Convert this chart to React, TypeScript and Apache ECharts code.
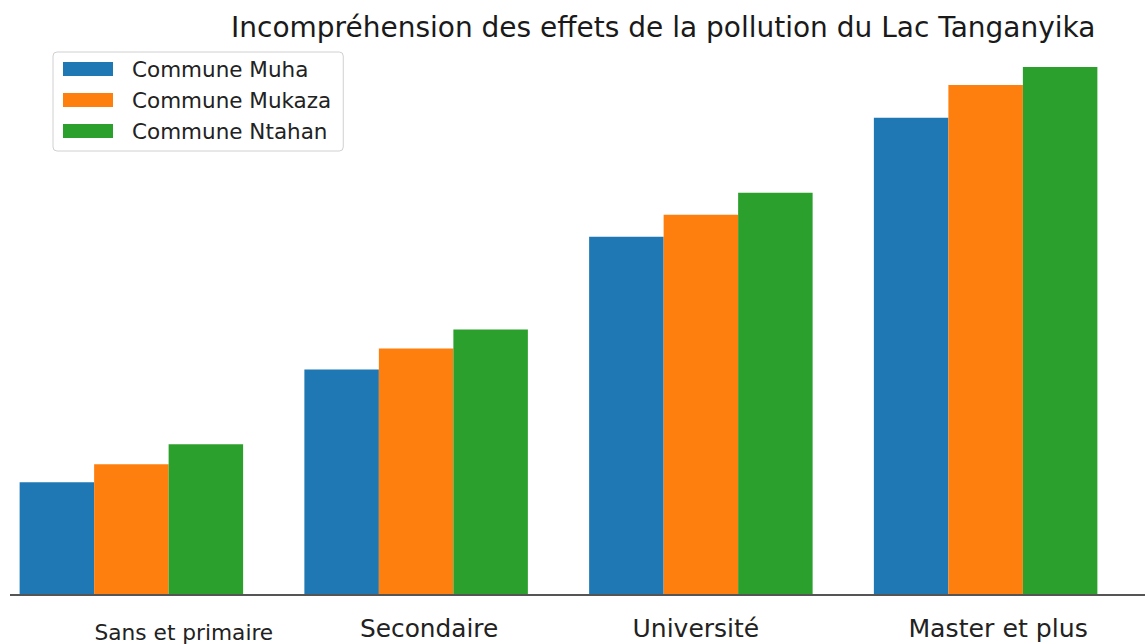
import React, { useEffect, useRef } from "react";
import * as echarts from "echarts";

const categories = ["Sans et primaire", "Secondaire", "Université", "Master et plus"];
const seriesNames = ["Commune Muha", "Commune Mukaza", "Commune Ntahan"];
const muha = [11.2, 22.5, 35.8, 47.7];
const mukaza = [13.0, 24.6, 38.0, 51.0];
const ntahan = [15.0, 26.5, 40.2, 52.8];
const titleText = "Incompréhension des effets de la pollution du Lac Tanganyika";

const colors = ["#1f77b4", "#ff7f0e", "#2ca02c"];
const FONT = "DejaVu Sans";

export default function App() {
  const ref = useRef<HTMLDivElement>(null);
  useEffect(() => {
    document.body.style.margin = "0";
    if (!ref.current) return;
    const chart = echarts.init(ref.current, undefined, { renderer: "svg" });
    const labelKeys = ["a", "b", "c", "d"];
    chart.setOption({
      animation: false,
      backgroundColor: "#ffffff",
      title: {
        text: titleText,
        left: 226,
        top: 8,
        textStyle: { fontFamily: FONT, fontSize: 28, fontWeight: "normal", color: "#1a1a1a" },
      },
      legend: {
        orient: "vertical",
        left: 53,
        top: 52,
        icon: "rect",
        itemWidth: 50,
        itemHeight: 14,
        itemGap: 9,
        padding: [6, 12, 9, 10],
        borderColor: "#d0d0d0",
        borderWidth: 1,
        borderRadius: 4,
        data: seriesNames,
        textStyle: { fontFamily: FONT, fontSize: 21.5, color: "#222", padding: [0, 0, 0, 14] },
      },
      grid: {
        left: -11,
        right: 17,
        top: 35,
        bottom: 50,
        containLabel: false,
        outerBoundsMode: "none",
      },
      xAxis: {
        type: "category",
        data: categories,
        axisLine: { show: false },
        axisTick: { show: false },
        axisLabel: {
          margin: 22,
          interval: 0,
          formatter: (v: string) => `{${labelKeys[categories.indexOf(v)]}|${v}}`,
          rich: {
            a: { fontFamily: FONT, fontSize: 21.7, color: "#222", padding: [5, 0, 0, 105] },
            b: { fontFamily: FONT, fontSize: 24.8, color: "#222", padding: [0, 0, 0, 26] },
            c: { fontFamily: FONT, fontSize: 25, color: "#222", padding: [0, 10, 0, 0] },
            d: { fontFamily: FONT, fontSize: 25.2, color: "#222", padding: [0, 0, 0, 25] },
          },
        },
      },
      yAxis: {
        type: "value",
        min: 0,
        max: 56,
        show: false,
        splitLine: { show: false },
      },
      graphic: [
        {
          type: "line",
          shape: { x1: 10, y1: 595, x2: 1145, y2: 595 },
          style: { stroke: "#555", lineWidth: 2 },
          z: 10,
        },
      ],
      series: [muha, mukaza, ntahan].map((d, i) => ({
        name: seriesNames[i],
        type: "bar",
        data: d,
        barWidth: 74.5,
        barGap: "0%",
        itemStyle: { color: colors[i] },
      })),
    });
    return () => chart.dispose();
  }, []);
  return (
    <div
      ref={ref}
      style={{ width: 1145, height: 644, position: "absolute", left: 0, top: 0 }}
    />
  );
}
